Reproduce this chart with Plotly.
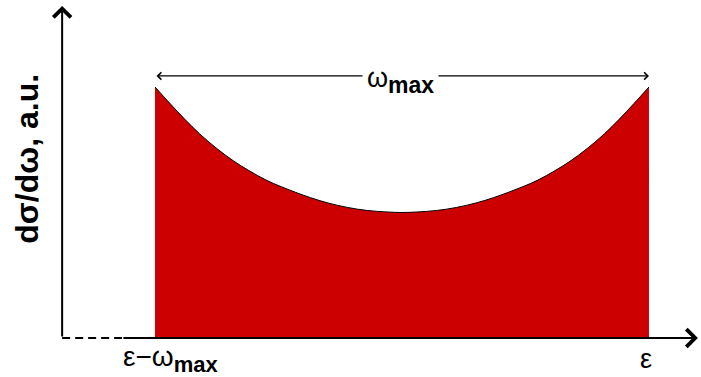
import plotly.graph_objects as go

# Spectrum shape: position along the energy axis (0 = ε−ω_max, 1 = ε)
# and cross-section in arbitrary units.
pos = [0.000, 0.030, 0.060, 0.090, 0.125, 0.160, 0.190, 0.225, 0.255, 0.285,
       0.315, 0.350, 0.390, 0.430, 0.470, 0.500, 0.530, 0.570, 0.610, 0.650,
       0.685, 0.715, 0.745, 0.775, 0.810, 0.840, 0.875, 0.910, 0.940, 0.970, 1.000]
xsec = [1.000, 0.935, 0.872, 0.814, 0.755, 0.704, 0.667, 0.629, 0.603, 0.580,
        0.559, 0.538, 0.520, 0.508, 0.502, 0.500, 0.502, 0.508, 0.520, 0.538,
        0.559, 0.580, 0.603, 0.629, 0.667, 0.704, 0.755, 0.814, 0.872, 0.935, 1.000]

tick_pos = [0.0, 1.0]
tick_text = ['ε−ω<sub><span style="font-size:22px"><b>max</b></span></sub>', "ε"]
y_title = "<b>dσ/dω, a.u.</b>"
width_label = 'ω<sub><span style="font-size:23px"><b>max</b></span></sub>'

# axis geometry in data units
x_origin = -0.188
x_dash_end = -0.067
x_tip = 1.099
y_tip = 1.323
y_span = 1.044

FONT = "Liberation Sans, Arial, sans-serif"
RED = "#cc0000"

fig = go.Figure()
fig.add_trace(go.Scatter(
    x=pos, y=xsec, mode="lines", line=dict(color="black", width=1, shape="spline"),
    fill="tozeroy", fillcolor=RED, hoverinfo="skip", showlegend=False,
))

shapes = [
    dict(type="line", xref="x", yref="y", x0=x_origin, x1=x_dash_end, y0=0, y1=0,
         line=dict(color="black", width=2, dash="8px,5px")),
]

annotations = [
    # y axis arrow
    dict(x=x_origin, y=y_tip, ax=x_origin, ay=0, xref="x", yref="y", axref="x", ayref="y",
         showarrow=True, arrowhead=4, arrowsize=1.7, arrowwidth=2, arrowcolor="black", text=""),
    # x axis arrow
    dict(x=x_tip, y=0, ax=x_dash_end, ay=0, xref="x", yref="y", axref="x", ayref="y",
         showarrow=True, arrowhead=4, arrowsize=1.7, arrowwidth=2, arrowcolor="black", text=""),
    # double arrow spanning the spectrum
    dict(x=pos[-1], y=y_span, ax=pos[0], ay=y_span, xref="x", yref="y", axref="x", ayref="y",
         showarrow=True, arrowhead=4, startarrowhead=4, arrowside="end+start",
         arrowsize=1.1, startarrowsize=1.1, arrowwidth=1.3, arrowcolor="black", text=""),
    dict(x=(pos[0] + pos[-1]) / 2, y=y_span, xref="x", yref="y", text=width_label,
         showarrow=False, bgcolor="white", borderpad=4, xanchor="center", yanchor="middle",
         yshift=-5, xshift=-2, font=dict(family=FONT, size=27, color="black")),
    # tick labels
    dict(x=tick_pos[0], y=0, xref="x", yref="y", text=tick_text[0], showarrow=False,
         xanchor="left", yanchor="top", xshift=-34, yshift=-1,
         font=dict(family=FONT, size=28, color="black")),
    dict(x=tick_pos[1], y=0, xref="x", yref="y", text=tick_text[1], showarrow=False,
         xanchor="center", yanchor="top", xshift=-3, yshift=-4,
         font=dict(family=FONT, size=27, color="black")),
    # y title
    dict(x=0.039, y=0.58, xref="paper", yref="paper", text=y_title, textangle=-90,
         showarrow=False, xanchor="center", yanchor="middle",
         font=dict(family=FONT, size=32, color="black")),
]

fig.update_layout(
    width=701, height=377, margin=dict(l=0, r=0, t=0, b=0),
    paper_bgcolor="white", plot_bgcolor="white",
    xaxis=dict(range=[-0.3138, 1.1053], visible=False, fixedrange=True),
    yaxis=dict(range=[-0.1554, 1.3466], visible=False, fixedrange=True),
    shapes=shapes, annotations=annotations, showlegend=False,
)

fig.write_html("out.html")
